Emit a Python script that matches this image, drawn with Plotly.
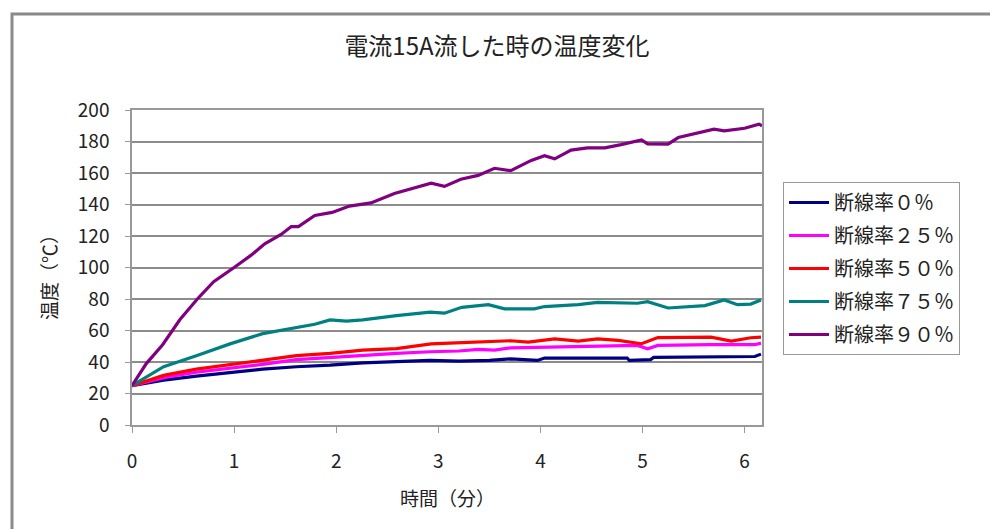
import plotly.graph_objects as go

# Time (min) and temperature (°C) readings for each wire-break ratio
t_0 = [0, 0.31, 0.63, 0.96, 1.28, 1.61, 1.94, 2.26, 2.59, 2.92, 3.2, 3.5, 3.71, 3.97,
       4.04, 4.85, 4.87, 5.08, 5.11, 6.1, 6.16]
v_0 = [25, 28.5, 31, 33.5, 35.5, 37, 38, 39.5, 40.5, 41, 40.6, 41, 42, 41,
       42.5, 42.5, 41, 41.5, 43, 43.5, 45]

t_25 = [0, 0.31, 0.63, 0.96, 1.28, 1.61, 1.94, 2.26, 2.59, 2.92, 3.2, 3.39, 3.55, 3.71,
        4.04, 4.37, 4.95, 5.05, 5.15, 5.67, 6.1, 6.16]
v_25 = [25, 30, 33.5, 36, 38.5, 41.5, 43, 44.5, 45.5, 46.5, 47, 48, 47.5, 49,
        49.5, 49.5, 50.5, 48.4, 50.5, 51, 51, 52]

t_50 = [0, 0.31, 0.63, 0.96, 1.28, 1.61, 1.94, 2.26, 2.59, 2.93, 3.11, 3.39, 3.71, 3.88,
        4.14, 4.37, 4.56, 4.76, 4.99, 5.15, 5.51, 5.67, 5.87, 6.06, 6.16]
v_50 = [25, 31.5, 35.5, 38.5, 41, 44, 45.5, 47.5, 48.5, 51.5, 52, 52.6, 53.5, 52.6,
        54.7, 53.3, 54.7, 53.7, 51.6, 55.5, 55.4, 55.8, 53.3, 55.4, 55.8]

t_75 = [0, 0.31, 0.63, 0.96, 1.28, 1.46, 1.61, 1.79, 1.94, 2.10, 2.26, 2.59, 2.92, 3.06,
        3.23, 3.49, 3.65, 3.94, 4.04, 4.37, 4.56, 4.95, 5.05, 5.25, 5.61, 5.80, 5.93,
        6.06, 6.16]
v_75 = [25, 37, 44, 51.5, 58, 60, 61.7, 64, 66.7, 66, 66.7, 69.5, 71.6, 71,
        74.7, 76.4, 73.7, 73.7, 75.2, 76.4, 77.9, 77.3, 78.3, 74.3, 75.8, 79.4, 76.4,
        76.8, 79.4]

t_90 = [0, 0.14, 0.3, 0.47, 0.64, 0.8, 1.0, 1.17, 1.30, 1.46, 1.56, 1.63, 1.79, 1.96,
        2.13, 2.34, 2.57, 2.73, 2.93, 3.06, 3.22, 3.39, 3.55, 3.71, 3.91, 4.04, 4.14,
        4.24, 4.30, 4.46, 4.63, 4.79, 4.99, 5.05, 5.25, 5.35, 5.51, 5.70, 5.80, 6.00,
        6.14, 6.17]
v_90 = [25, 39, 51, 67, 80, 91, 100, 108, 115, 121, 126, 126, 133, 135,
        139, 141, 147, 150, 153.5, 151.5, 156, 158.5, 163, 161.5, 168, 171, 169,
        172.5, 174.5, 176, 176, 178, 181, 178.5, 178.3, 182.5, 185, 187.8, 186.7, 188.4,
        191, 190]

series_names = ["断線率０％", "断線率２５％", "断線率５０％", "断線率７５％", "断線率９０％"]
series_t = [t_0, t_25, t_50, t_75, t_90]
series_v = [v_0, v_25, v_50, v_75, v_90]
series_colors = ["#000080", "#FF00FF", "#FF0000", "#008080", "#800080"]

x_ticks = [0, 1, 2, 3, 4, 5, 6]
y_ticks = [0, 20, 40, 60, 80, 100, 120, 140, 160, 180, 200]

FONT = "Noto Sans CJK JP"
TXT = "#222222"
W, H = 990, 529
L, R, T, B = 132, 228, 110, 104

fig = go.Figure()
for name, tt, vv, col in zip(series_names, series_t, series_v, series_colors):
    fig.add_trace(go.Scatter(
        x=tt, y=vv, mode="lines", name=name, legendgroup=name,
        line=dict(color=col, width=3.2),
    ))

pw = W - L - R
ph = H - T - B

def px_x(px):
    return (px - L) / pw

def px_y(py):
    return (H - B - py) / ph

fig.update_layout(
    width=W, height=H,
    margin=dict(l=L, r=R, t=T, b=B),
    paper_bgcolor="white", plot_bgcolor="white",
    font=dict(family=FONT, color=TXT, size=18),
    title=dict(text="電流15A流した時の温度変化", x=497 / W, xref="container",
               y=1 - 47 / H, yref="container", xanchor="center", yanchor="middle",
               font=dict(family=FONT, size=24, color=TXT)),
    showlegend=True,
    legend=dict(x=px_x(783), y=px_y(182), xanchor="left", yanchor="top",
                bordercolor="#999999", borderwidth=1, bgcolor="white",
                font=dict(family=FONT, size=20, color=TXT),
                tracegroupgap=4, itemwidth=40),
    xaxis=dict(range=[0, 6.17], tickvals=x_ticks, ticktext=[str(v) for v in x_ticks],
               showgrid=False, zeroline=False, showline=True, linecolor="#999999",
               linewidth=1.5, mirror=True, ticks="outside", ticklen=6,
               tickcolor="#999999", ticklabelstandoff=12,
               tickfont=dict(family=FONT, size=19, color=TXT)),
    yaxis=dict(range=[0, 200], tickvals=y_ticks, ticktext=[str(v) for v in y_ticks],
               showgrid=True, gridcolor="#8c8c8c", gridwidth=1.5, zeroline=False,
               showline=True, linecolor="#999999", linewidth=1.5, mirror=True,
               ticks="outside", ticklen=5, tickcolor="#999999", ticklabelstandoff=12,
               tickfont=dict(family=FONT, size=19, color=TXT)),
)

# Axis titles
fig.add_annotation(text="温度（℃）", xref="paper", yref="paper", x=px_x(48), y=px_y(273),
                   textangle=-90, showarrow=False, xanchor="center", yanchor="middle",
                   font=dict(family=FONT, size=19, color=TXT))
fig.add_annotation(text="時間（分）", xref="paper", yref="paper", x=0.5, y=px_y(497),
                   showarrow=False, xanchor="center", yanchor="middle",
                   font=dict(family=FONT, size=19, color=TXT))

# Outer chart frame
fig.add_shape(type="rect", xref="paper", yref="paper",
              x0=px_x(12), y0=px_y(560), x1=px_x(1010), y1=px_y(14),
              line=dict(color="#8a8a8a", width=3), layer="below")

fig.write_html("out.html")
